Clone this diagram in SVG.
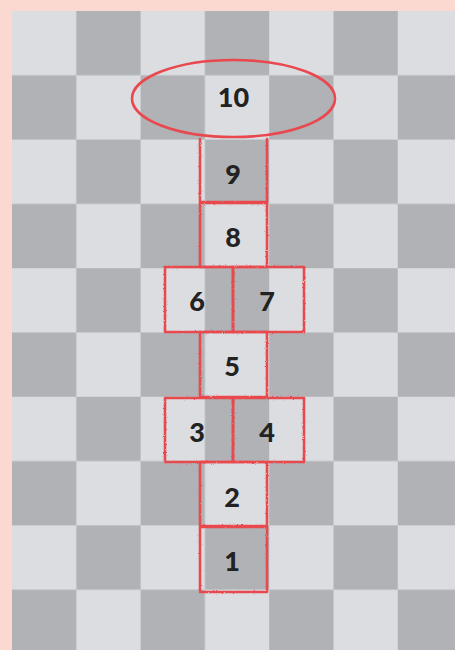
<svg xmlns="http://www.w3.org/2000/svg" width="455" height="650" viewBox="0 0 455 650">
<defs>
<style>
.l{fill:#dcdde0}.d{fill:#b1b2b5}
.chalk{fill:none;stroke:#e8484e;stroke-width:2.6;stroke-linejoin:round;stroke-linecap:round;filter:url(#rough)}
.num{font-family:Lato,"DejaVu Sans",sans-serif;font-weight:900;font-size:27px;fill:#222;text-anchor:middle}
</style>
<filter id="rough" x="-5%" y="-5%" width="110%" height="110%">
<feTurbulence type="fractalNoise" baseFrequency="0.9" numOctaves="2" seed="3" result="n"/>
<feDisplacementMap in="SourceGraphic" in2="n" scale="2.2"/>
</filter>
<pattern id="checker" x="12" y="11" width="128.6" height="128.6" patternUnits="userSpaceOnUse">
<rect width="128.6" height="128.6" class="l"/>
<rect x="64.3" width="64.3" height="64.3" class="d"/>
<rect y="64.3" width="64.3" height="64.3" class="d"/>
</pattern>
</defs>
<rect width="455" height="650" fill="#fcd9d0"/>
<rect x="12" y="11" width="443" height="639" fill="url(#checker)"/>
<g id="connectors"></g>
<g id="n10"><ellipse class="chalk" cx="233.5" cy="98.5" rx="101.5" ry="38.5" style="filter:none"/><text class="num" x="233.5" y="107">10</text></g>
<g id="n9"><path class="chalk" d="M200 139 V202 M267 139 V202 M200 202 H267"/><text class="num" x="233" y="184">9</text></g>
<g id="n8"><rect class="chalk" x="200" y="203" width="67" height="64"/><text class="num" x="233" y="247">8</text></g>
<g id="n6"><rect class="chalk" x="165" y="267" width="68" height="65"/><text class="num" x="197" y="311">6</text></g>
<g id="n7"><rect class="chalk" x="233" y="267" width="71" height="65"/><text class="num" x="267" y="311">7</text></g>
<g id="n5"><rect class="chalk" x="200" y="332" width="67" height="65"/><text class="num" x="232" y="376">5</text></g>
<g id="n3"><rect class="chalk" x="165" y="398" width="68" height="64"/><text class="num" x="197" y="442">3</text></g>
<g id="n4"><rect class="chalk" x="233" y="398" width="71" height="64"/><text class="num" x="267" y="442">4</text></g>
<g id="n2"><rect class="chalk" x="200" y="462" width="67" height="64"/><text class="num" x="232" y="507">2</text></g>
<g id="n1"><rect class="chalk" x="200" y="527" width="67" height="65"/><text class="num" x="232" y="571">1</text></g>
</svg>
